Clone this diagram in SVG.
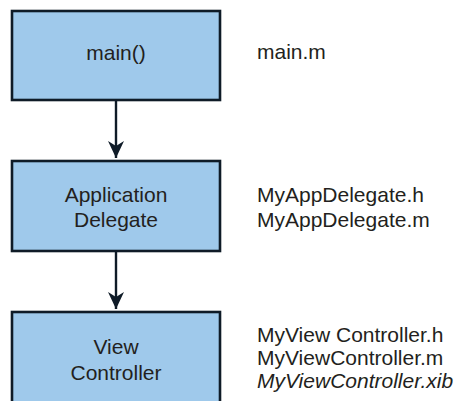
<svg xmlns="http://www.w3.org/2000/svg" width="456" height="401" viewBox="0 0 456 401">
  <style>
    .box { fill: #9fc9eb; stroke: #0f1b27; stroke-width: 2.6; }
    .lbl { font-family: "Liberation Sans", Arial, sans-serif; font-size: 21px; fill: #231f20; }
    .mid { text-anchor: middle; }
    .edge { stroke: #0f1b27; stroke-width: 2.4; fill: none; }
    .it { font-style: italic; }
  </style>
  <defs>
    <marker id="arrow" markerUnits="userSpaceOnUse" markerWidth="18" markerHeight="16" viewBox="0 0 18 16" refX="17" refY="8" orient="auto">
      <path d="M0,0 L5,8 L0,16 L17,8 Z" fill="#0f1b27"/>
    </marker>
  </defs>

  <rect width="456" height="401" fill="#ffffff"/>

  <g id="connectors">
    <line class="edge" x1="116" y1="100" x2="116" y2="158" marker-end="url(#arrow)"/>
    <line class="edge" x1="116" y1="251" x2="116" y2="309" marker-end="url(#arrow)"/>
  </g>

  <g id="main">
    <rect class="box" x="12" y="11" width="208" height="89"/>
    <text class="lbl mid" x="116" y="60">main()</text>
  </g>

  <g id="app-delegate">
    <rect class="box" x="12" y="161" width="208" height="90"/>
    <text class="lbl mid" x="116" y="202">Application</text>
    <text class="lbl mid" x="116" y="227">Delegate</text>
  </g>

  <g id="view-controller">
    <rect class="box" x="12" y="312" width="208" height="100"/>
    <text class="lbl mid" x="116" y="354">View</text>
    <text class="lbl mid" x="116" y="380">Controller</text>
  </g>

  <g id="files">
    <text class="lbl" x="257" y="59">main.m</text>
    <text class="lbl" x="257" y="202">MyAppDelegate.h</text>
    <text class="lbl" x="257" y="227">MyAppDelegate.m</text>
    <text class="lbl" x="257" y="342">MyView Controller.h</text>
    <text class="lbl" x="257" y="365">MyViewController.m</text>
    <text class="lbl it" x="257" y="388">MyViewController.xib</text>
  </g>
</svg>
